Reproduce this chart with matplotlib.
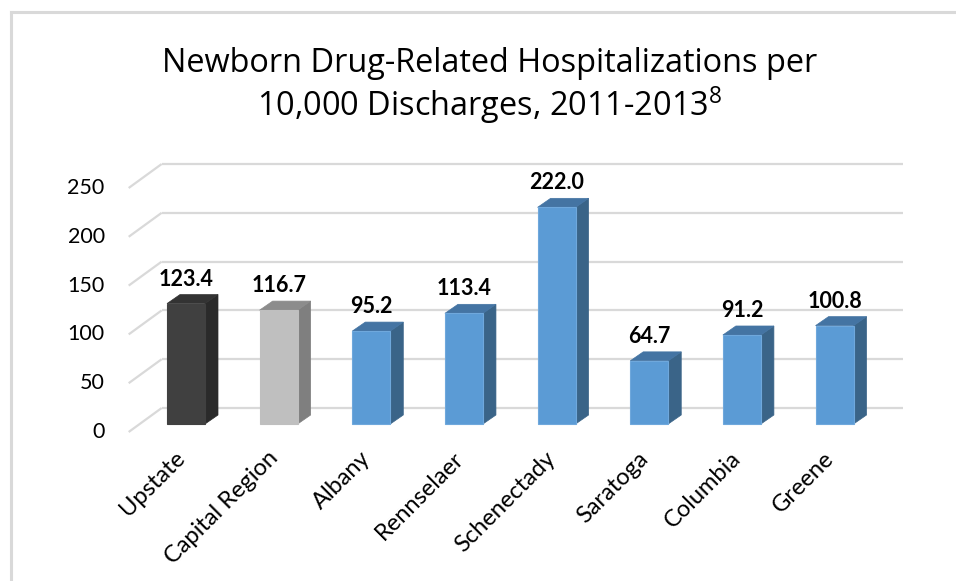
import matplotlib
matplotlib.use("Agg")
import matplotlib.pyplot as plt
from matplotlib.patches import Polygon, Rectangle
from matplotlib.lines import Line2D

# ---- data ----
categories = ["Upstate", "Capital Region", "Albany", "Rennselaer",
              "Schenectady", "Saratoga", "Columbia", "Greene"]
values = [123.4, 116.7, 95.2, 113.4, 222.0, 64.7, 91.2, 100.8]
value_labels = ["123.4", "116.7", "95.2", "113.4", "222.0", "64.7", "91.2", "100.8"]
yticks = [0, 50, 100, 150, 200, 250]
title_line1 = "Newborn Drug-Related Hospitalizations per"
title_line2 = "10,000 Discharges, 2011-2013"
title_sup = "8"

# ---- style ----
FONT = "Lato"
TFONT = "Open Sans"
plt.rcParams["font.family"] = [FONT, "DejaVu Sans"]
plt.rcParams["mathtext.fontset"] = "custom"
plt.rcParams["mathtext.rm"] = TFONT

front_cols = ["#404040", "#bfbfbf"] + ["#5b9bd5"] * 6
side_cols = ["#2a2a2a", "#7f7f7f"] + ["#3a6488"] * 6
top_cols = ["#333333", "#8c8c8c"] + ["#4474a3"] * 6
edge_cols = ["#404040", "#bfbfbf"] + ["#6fa8dc"] * 6
grid_col = "#d9d9d9"

W, H = 956, 581
fig = plt.figure(figsize=(W / 100, H / 100), dpi=100)

# axes placement in pixels
ax_l, ax_r, ax_t, ax_b = 100, 920, 140, 470
ax = fig.add_axes([ax_l / W, 1 - ax_b / H, (ax_r - ax_l) / W, (ax_b - ax_t) / H])
x0_px, step_px = 186.0, 92.65
y0_px, ppu = 424.0, 0.976
ax.set_xlim((ax_l - x0_px) / step_px, (ax_r - x0_px) / step_px)
ax.set_ylim((y0_px - ax_b) / ppu, (y0_px - ax_t) / ppu)
ax.axis("off")

def px_x(p):
    return p / step_px

def px_y(p):
    return p / ppu

n = len(categories)
bw = px_x(38)
bdx, bdy = px_x(13), px_y(9)          # bar depth
wdx, wdy = px_x(22), px_y(16)         # back wall offset
fdx, fdy = px_x(-11), px_y(-8)        # front floor offset
xl, xr = -0.5, n - 0.5

# gridlines
for t in yticks:
    ax.plot([xl + wdx, xr + wdx], [t + wdy, t + wdy], color=grid_col, lw=1.6,
            zorder=1, solid_capstyle="butt")
    ax.plot([xl + fdx, xl + wdx], [t + fdy, t + wdy], color=grid_col, lw=1.6,
            zorder=1, solid_capstyle="butt")
    ax.text(xl + fdx - px_x(24), t + fdy, str(t), ha="right", va="center",
            fontsize=15.5, color="#000000", clip_on=False)

# bars
for i, v in enumerate(values):
    xa, xb = i - bw / 2, i + bw / 2
    ax.add_patch(Polygon([(xb, 0), (xb + bdx, bdy), (xb + bdx, v + bdy), (xb, v)],
                         closed=True, facecolor=side_cols[i], edgecolor=side_cols[i],
                         lw=0.5, zorder=3))
    ax.add_patch(Polygon([(xa, v), (xa + bdx, v + bdy), (xb + bdx, v + bdy), (xb, v)],
                         closed=True, facecolor=top_cols[i], edgecolor=top_cols[i],
                         lw=0.5, zorder=3))
    ax.add_patch(Rectangle((xa, 0), bw, v, facecolor=front_cols[i],
                           edgecolor=edge_cols[i], lw=0.8, zorder=4))
    ax.text(i, v + px_y(18), value_labels[i], ha="center", va="baseline",
            fontsize=15.5, fontweight="bold", color="#000000", zorder=5)
    ax.text(i - px_x(4), -px_y(31), categories[i], rotation=45, ha="right",
            va="center", rotation_mode="anchor", fontsize=17, color="#000000",
            clip_on=False)

# title
fig.text(490 / W, 1 - 72 / H, title_line1, ha="center", va="baseline",
         fontsize=23.4, color="#000000", family=[TFONT, "DejaVu Sans"])
fig.text(490 / W, 1 - 116 / H, title_line2 + r"$^{" + title_sup + "}$",
         ha="center", va="baseline", fontsize=23.4, color="#000000",
         family=[TFONT, "DejaVu Sans"])

# chart border (top & left visible)
fig.add_artist(Line2D([11 / W, 1.0], [1 - 12 / H, 1 - 12 / H], color=grid_col, lw=2.2))
fig.add_artist(Line2D([11 / W, 11 / W], [1 - 12 / H, 0.0], color=grid_col, lw=2.2))

fig.savefig("out.png", dpi=100, facecolor="white")
